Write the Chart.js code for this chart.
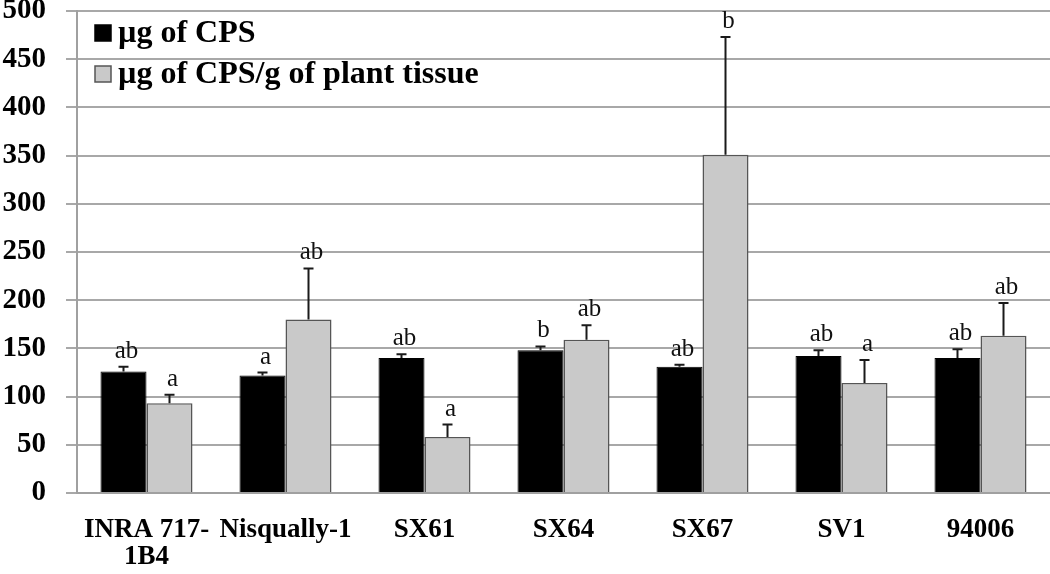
<!DOCTYPE html>
<html>
<head>
<meta charset="utf-8">
<script src="https://cdn.jsdelivr.net/npm/chart.js@4"></script>
<style>
  html, body { margin: 0; padding: 0; background: #ffffff; }
  #wrap { width: 1050px; height: 574px; }
</style>
</head>
<body>
<div id="wrap"><canvas id="myChart" width="1050" height="574"></canvas></div>
<script>
// categories and values
var categorias = [["INRA 717-", "1B4"], "Nisqually-1", "SX61", "SX64", "SX67", "SV1", "94006"];
var nombresSeries = ["\u00b5g of CPS", "\u00b5g of CPS/g of plant tissue"];

var cps = [126, 122, 140, 148, 131, 142, 140];
var cpsError = [5, 3, 4, 4, 2, 6, 9];
var cpsLetras = ["ab", "a", "ab", "b", "ab", "ab", "ab"];

var cpsTejido = [93, 180, 58, 159, 351, 114, 163];
var cpsTejidoError = [9, 53, 13, 15, 122, 24, 34];
var cpsTejidoLetras = ["a", "ab", "a", "ab", "b", "a", "ab"];

var yMin = 0, yMax = 500, yPaso = 50;

var errores = [cpsError, cpsTejidoError];
var letras = [cpsLetras, cpsTejidoLetras];

var serif = "'Liberation Serif', 'Times New Roman', serif";

// error bars (upper only) and significance letters
var barrasError = {
    id: 'barrasError',
    afterDatasetsDraw: function(chart) {
        var ctx = chart.ctx;
        var y = chart.scales.y;
        ctx.save();
        chart.data.datasets.forEach(function(ds, i) {
            var meta = chart.getDatasetMeta(i);
            meta.data.forEach(function(bar, j) {
                var top = y.getPixelForValue(ds.data[j]);
                var cap = y.getPixelForValue(ds.data[j] + errores[i][j]);
                ctx.strokeStyle = '#1a1a1a';
                ctx.lineWidth = 2;
                ctx.beginPath();
                ctx.moveTo(bar.x, top);
                ctx.lineTo(bar.x, cap);
                ctx.moveTo(bar.x - 5, cap);
                ctx.lineTo(bar.x + 5, cap);
                ctx.stroke();

                ctx.fillStyle = '#111';
                ctx.font = '25px ' + serif;
                ctx.textAlign = 'center';
                ctx.textBaseline = 'alphabetic';
                ctx.fillText(letras[i][j], bar.x + 3, cap - 9);
            });
        });
        ctx.restore();
    }
};

// legend drawn inside the plot area, top left
var leyenda = {
    id: 'leyenda',
    afterDraw: function(chart) {
        var ctx = chart.ctx;
        ctx.save();
        var x = 95, ys = [33, 74];
        chart.data.datasets.forEach(function(ds, i) {
            ctx.fillStyle = ds.backgroundColor;
            ctx.fillRect(x, ys[i] - 8, 16, 16);
            ctx.strokeStyle = ds.borderColor;
            ctx.lineWidth = 1.5;
            ctx.strokeRect(x, ys[i] - 8, 16, 16);
            ctx.fillStyle = '#000';
            ctx.font = 'bold 32px ' + serif;
            ctx.textAlign = 'left';
            ctx.textBaseline = 'middle';
            ctx.fillText(ds.label, x + 23, ys[i] + 1);
        });
        ctx.restore();
    }
};

var ctx = document.getElementById('myChart').getContext('2d');
var myChart = new Chart(ctx, {
    type: 'bar',
    data: {
        labels: categorias,
        datasets: [
            {
                label: nombresSeries[0],
                data: cps,
                backgroundColor: '#000000',
                borderColor: '#000000',
                borderWidth: 1
            },
            {
                label: nombresSeries[1],
                data: cpsTejido,
                backgroundColor: '#c9c9c9',
                borderColor: '#555555',
                borderWidth: 1.5
            }
        ]
    },
    options: {
        responsive: false,
        animation: false,
        categoryPercentage: 0.662,
        barPercentage: 1,
        layout: { padding: { top: 11, right: 0, bottom: 0, left: 0 } },
        plugins: {
            legend: { display: false },
            tooltip: { enabled: false }
        },
        scales: {
            x: {
                grid: { display: false, drawTicks: false },
                border: { display: true, color: '#a0a0a0', width: 2 },
                ticks: {
                    color: '#000',
                    padding: 24,
                    maxRotation: 0,
                    autoSkip: false,
                    font: { family: serif, size: 27, weight: 'bold', lineHeight: 1.0 }
                },
                afterFit: function(scale) { scale.height = 81; }
            },
            y: {
                min: yMin,
                max: yMax,
                grid: { color: '#a8a8a8', lineWidth: 2, tickLength: 11 },
                border: { display: true, color: '#a0a0a0', width: 2 },
                ticks: {
                    stepSize: yPaso,
                    color: '#000',
                    padding: 20,
                    font: { family: serif, size: 29, weight: 'bold' }
                },
                afterFit: function(scale) {
                    scale.width = 77;
                    scale.paddingTop = 0;
                    scale.paddingBottom = 0;
                }
            }
        }
    },
    plugins: [barrasError, leyenda]
});
</script>
</body>
</html>
